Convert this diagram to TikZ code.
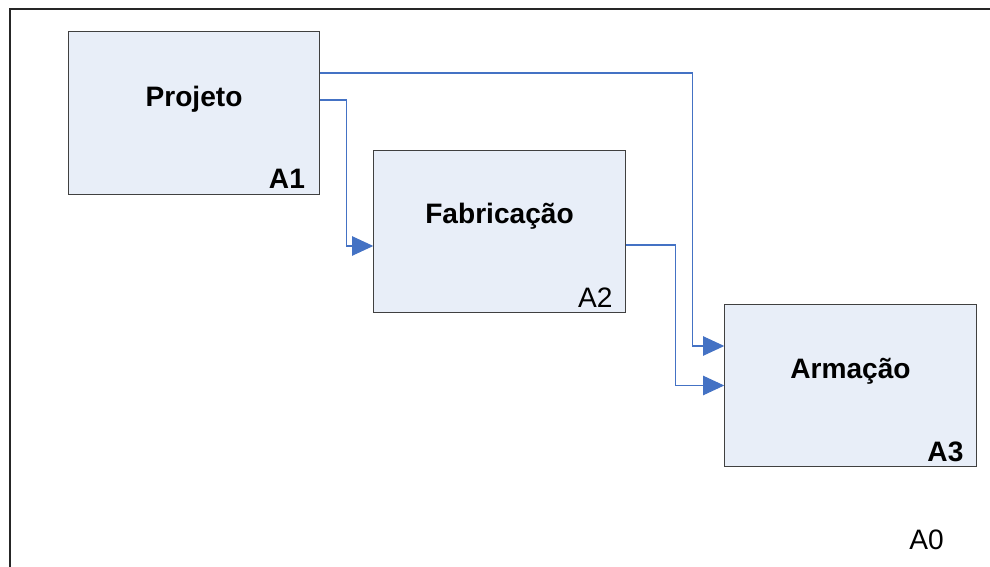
\documentclass[tikz,border=0pt]{standalone}
\usepackage{fontspec}
\setmainfont{Liberation Sans}
\usepackage{tikz}
\usetikzlibrary{arrows.meta}

\definecolor{boxfill}{RGB}{232,238,248}
\definecolor{flow}{RGB}{68,114,196}

\tikzset{
  box/.style = {draw=black!75, line width=0.6pt, fill=boxfill, inner sep=0pt,
                minimum width=5.03cm, minimum height=3.25cm},
  title/.style = {font=\fontsize{16}{18}\selectfont\bfseries, anchor=base},
  tag/.style = {font=\fontsize{16}{18}\selectfont, anchor=base east, inner sep=0pt},
  link/.style = {draw=flow, line width=0.6pt,
                 -{Triangle[length=12pt, width=11pt]}},
}

\begin{document}
\begin{tikzpicture}[x=0.02cm, y=-0.02cm]
\useasboundingbox (0,0) rectangle (990,567);
% frame of the A0 diagram
\draw[line width=1.2pt, black!85] (990,9) -- (10,9) -- (10,567);

\node[box] (proj) at (194,113) {};
\node[box] (fab) at (499.5,231.5) {};
\node[box] (arm) at (850.5,385.5) {};

\node[title] (projT) at ([yshift=0.12cm]proj.center) {Projeto};
\node[title] (fabT) at ([yshift=0.15cm]fab.center) {Fabricação};
\node[title] (armT) at ([yshift=0.15cm]arm.center) {Armação};

\node[tag, font=\fontsize{16}{18}\selectfont\bfseries] (a1) at ([xshift=-0.3cm, yshift=0.12cm]proj.south east) {A1};
\node[tag] (a2) at ([xshift=-0.26cm, yshift=0.12cm]fab.south east) {A2};
\node[tag, font=\fontsize{16}{18}\selectfont\bfseries] (a3) at ([xshift=-0.26cm, yshift=0.12cm]arm.south east) {A3};
\node[tag] (a0) at (944,549) {A0};

% flows between the activities
\draw[link] ([yshift=0.8cm]proj.east) -- ++(7.44cm,0) |- ([yshift=0.79cm]arm.west);
\draw[link] ([yshift=0.26cm]proj.east) -- ++(0.52cm,0) |- ([yshift=-0.29cm]fab.west);
\draw[link] ([yshift=-0.27cm]fab.east) -- ++(1cm,0) |- (arm.west);
\end{tikzpicture}
\end{document}
